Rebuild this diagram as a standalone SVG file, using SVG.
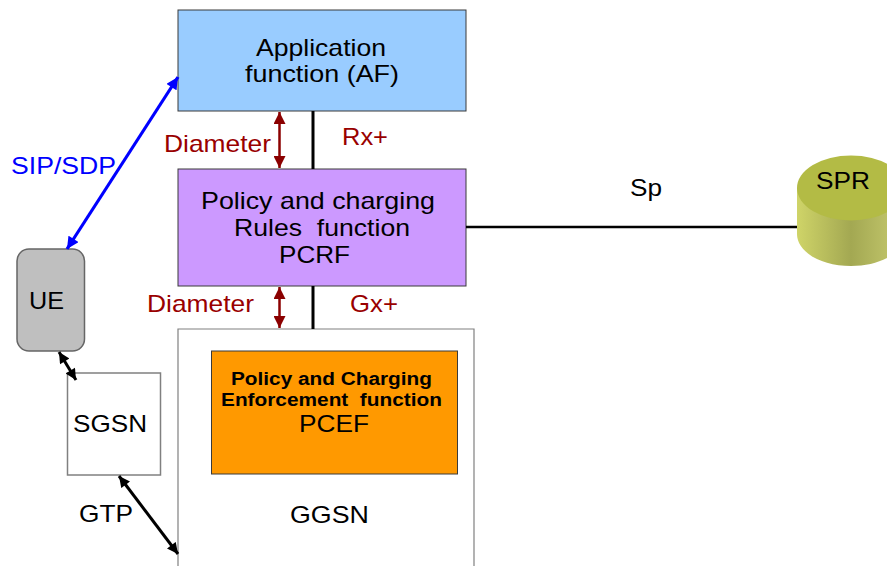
<svg xmlns="http://www.w3.org/2000/svg" width="887" height="566" viewBox="0 0 887 566">
<style>
text{font-family:"Liberation Sans",Arial,sans-serif;font-size:24px;fill:#000;text-anchor:middle;white-space:pre}
.red{fill:#990000}
.blue{fill:#0000ff}
.b{stroke:#3a3a3a;stroke-width:1}
.g{stroke:#808080;stroke-width:1.5}
text.bold{font-weight:bold;font-size:18px}
</style>
<defs>
<marker id="ar" viewBox="0 0 10 10" refX="10" refY="5" markerWidth="12" markerHeight="12" markerUnits="userSpaceOnUse" orient="auto-start-reverse"><path d="M0 0L10 5L0 10z" fill="#8b0000"/></marker>
<marker id="ak" viewBox="0 0 10 10" refX="10" refY="5" markerWidth="12" markerHeight="11" markerUnits="userSpaceOnUse" orient="auto-start-reverse"><path d="M0 0L10 5L0 10z" fill="#000"/></marker>
<marker id="au" viewBox="0 0 10 10" refX="10" refY="5" markerWidth="13" markerHeight="12" markerUnits="userSpaceOnUse" orient="auto-start-reverse"><path d="M0 0L10 5L0 10z" fill="#0000ff"/></marker>
<linearGradient id="cyl" x1="0" x2="1" y1="0" y2="0">
<stop offset="0" stop-color="#cfd468"/><stop offset=".5" stop-color="#a3a852"/><stop offset="1" stop-color="#c8cc70"/>
</linearGradient>
</defs>
<g id="af"><rect x="178" y="10" width="288" height="101" fill="#99ccff" class="b"/>
<text x="321" y="56" textLength="130" lengthAdjust="spacingAndGlyphs">Application</text><text x="322" y="82" textLength="154" lengthAdjust="spacingAndGlyphs">function (AF)</text></g>
<g id="pcrf"><rect x="178" y="169" width="288" height="117" fill="#cc99ff" class="b"/>
<text x="318" y="209" textLength="234" lengthAdjust="spacingAndGlyphs">Policy and charging</text><text x="322" y="236" textLength="176" lengthAdjust="spacingAndGlyphs">Rules  function</text><text x="314.500" y="263" textLength="71" lengthAdjust="spacingAndGlyphs">PCRF</text></g>
<g id="ggsn"><path d="M178 566V329H474V566" fill="#fff" stroke="#808080" stroke-width="1.2"/>
<text x="329.500" y="523" textLength="79" lengthAdjust="spacingAndGlyphs">GGSN</text></g>
<g id="pcef"><rect x="211.500" y="351" width="246" height="123" fill="#ff9900" class="b"/>
<text x="331.500" y="385" class="bold" textLength="201" lengthAdjust="spacingAndGlyphs">Policy and Charging</text><text x="331.500" y="406" class="bold" textLength="221" lengthAdjust="spacingAndGlyphs">Enforcement  function</text><text x="334" y="432" textLength="70" lengthAdjust="spacingAndGlyphs">PCEF</text></g>
<g id="ue"><rect x="17" y="249" width="67.500" height="102" rx="12" fill="#bfbfbf" stroke="#666" stroke-width="1.500"/>
<text x="46.500" y="309" textLength="35" lengthAdjust="spacingAndGlyphs">UE</text></g>
<g id="sgsn"><rect x="67.500" y="373" width="93" height="102" fill="#fff" class="g"/>
<text x="110" y="432" textLength="74" lengthAdjust="spacingAndGlyphs">SGSN</text></g>
<g id="spr">
<path d="M797 188V234C797 252 821 266 851 266S905 252 905 234V188z" fill="url(#cyl)"/>
<ellipse cx="851" cy="188" rx="54" ry="32.500" fill="#b3bb45"/>
<text x="843" y="189" textLength="54" lengthAdjust="spacingAndGlyphs">SPR</text></g>
<g id="connectors" fill="none">
<path d="M313 111V169M313 286V329" stroke="#000" stroke-width="3"/>
<path d="M466 227H797" stroke="#000" stroke-width="2.5"/>
<path d="M279.500 112V168" stroke="#8b0000" stroke-width="2.500" marker-start="url(#ar)" marker-end="url(#ar)"/>
<path d="M279.500 287V328" stroke="#8b0000" stroke-width="2.500" marker-start="url(#ar)" marker-end="url(#ar)"/>
<path d="M178 77L67 249" stroke="#0000ff" stroke-width="3.200" marker-start="url(#au)" marker-end="url(#au)"/>
<path d="M59 352L76 380" stroke="#000" stroke-width="3" marker-start="url(#ak)" marker-end="url(#ak)"/>
<path d="M119 476L178 554" stroke="#000" stroke-width="3" marker-start="url(#ak)" marker-end="url(#ak)"/>
</g>
<g id="labels">
<text x="217.500" y="152" class="red" textLength="107" lengthAdjust="spacingAndGlyphs">Diameter</text>
<text x="365" y="145" class="red" textLength="46" lengthAdjust="spacingAndGlyphs">Rx+</text>
<text x="200.500" y="312" class="red" textLength="107" lengthAdjust="spacingAndGlyphs">Diameter</text>
<text x="374" y="312" class="red" textLength="48" lengthAdjust="spacingAndGlyphs">Gx+</text>
<text x="63.500" y="174" class="blue" textLength="105" lengthAdjust="spacingAndGlyphs">SIP/SDP</text>
<text x="646" y="196" textLength="32" lengthAdjust="spacingAndGlyphs">Sp</text>
<text x="106" y="522" textLength="54" lengthAdjust="spacingAndGlyphs">GTP</text>
</g>
</svg>
